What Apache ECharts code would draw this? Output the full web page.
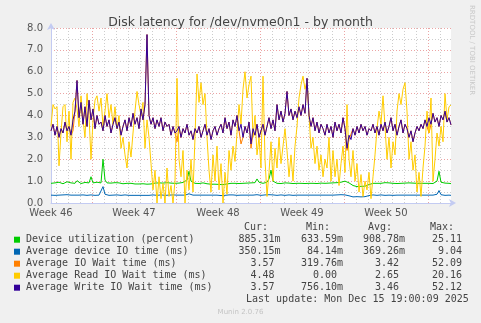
<!DOCTYPE html>
<html>
<head>
<meta charset="utf-8">
<script src="https://cdn.jsdelivr.net/npm/echarts@6/dist/echarts.min.js"></script>
<style>
  html, body { margin: 0; padding: 0; background: #f0f0f0; }
  #chart { width: 481px; height: 323px; }
</style>
</head>
<body>
<div id="chart"></div>
<script>
// Time axis: hours since the left edge of the graph, one sample every 4 hours.
const STEP_HOURS = 4;
const SPAN_HOURS = 800;

// Day and week gridlines (hours), and week labels placed mid-week.
const dayGridHours = [10, 34, 58, 82, 106, 130, 154, 178, 202, 226, 250, 274, 298, 322, 346, 370, 394,
  418, 442, 466, 490, 514, 538, 562, 586, 610, 634, 658, 682, 706, 730, 754, 778];
const weekGridHours = [82, 250, 418, 586, 754];
const weekLabelHours = [0, 166, 334, 502, 670];
const weekLabels = ['Week 46', 'Week 47', 'Week 48', 'Week 49', 'Week 50'];

// Device utilization (percent)
const utilization = [
  0.90, 0.88, 0.92, 0.89, 0.95, 0.90, 0.88, 0.91, 0.97, 0.89,
  0.92, 0.88, 0.90, 1.02, 0.93, 0.89, 0.91, 0.94, 0.90, 0.92,
  1.20, 0.92, 0.89, 0.95, 0.90, 0.92, 2.00, 1.05, 0.92, 0.89,
  0.91, 0.90, 0.93, 0.89, 0.92, 0.90, 0.88, 0.91, 0.90, 0.89,
  0.90, 0.88, 0.87, 0.86, 0.87, 0.86, 0.88, 0.87, 0.86, 0.88,
  0.87, 0.89, 0.91, 0.90, 0.92, 0.89, 0.91, 0.90, 0.93, 0.90,
  0.91, 0.92, 0.90, 0.93, 0.91, 0.90, 0.94, 0.92, 1.05, 1.45,
  1.00, 0.92, 0.90, 0.91, 0.89, 0.90, 0.92, 0.90, 0.88, 0.87,
  0.86, 0.85, 0.86, 0.84, 0.85, 0.86, 0.84, 0.85, 0.87, 0.89,
  0.90, 0.92, 0.90, 0.91, 0.89, 0.93, 0.90, 0.92, 0.91, 0.90,
  0.92, 0.90, 0.93, 1.10, 0.95, 0.91, 0.90, 0.92, 0.95, 1.10,
  1.50, 1.00, 0.92, 0.90, 0.91, 0.89, 0.90, 0.92, 0.90, 0.91,
  0.90, 0.89, 0.91, 0.90, 0.92, 0.90, 0.91, 0.89, 0.93, 0.90,
  0.91, 0.90, 0.92, 0.89, 0.90, 0.91, 0.95, 0.90, 0.92, 0.91,
  0.90, 0.92, 0.90, 0.93, 0.91, 0.95, 0.97, 1.00, 0.98, 0.92,
  0.85, 0.80, 0.76, 0.75, 0.74, 0.76, 0.75, 0.77, 0.80, 0.84,
  0.88, 0.90, 0.91, 0.90, 0.92, 0.90, 0.91, 0.93, 0.90, 0.92,
  0.91, 0.90, 0.92, 0.89, 0.91, 0.90, 0.92, 0.91, 0.90, 0.92,
  0.90, 0.91, 0.89, 0.90, 0.92, 0.90, 0.91, 0.90, 0.92, 0.90,
  0.91, 0.89, 0.92, 1.00, 1.45, 0.95, 0.90, 0.91, 0.89, 0.90,
  0.885
];

// Average device IO time (ms)
const deviceIoTime = [
  0.36, 0.37, 0.35, 0.38, 0.36, 0.35, 0.37, 0.36, 0.38, 0.35,
  0.36, 0.37, 0.36, 0.40, 0.36, 0.35, 0.37, 0.36, 0.35, 0.38,
  0.37, 0.36, 0.35, 0.37, 0.36, 0.38, 0.75, 0.40, 0.36, 0.35,
  0.37, 0.36, 0.35, 0.37, 0.36, 0.35, 0.36, 0.37, 0.36, 0.35,
  0.36, 0.35, 0.34, 0.35, 0.34, 0.35, 0.34, 0.35, 0.36, 0.35,
  0.36, 0.37, 0.36, 0.35, 0.36, 0.37, 0.36, 0.35, 0.37, 0.36,
  0.36, 0.37, 0.35, 0.36, 0.37, 0.36, 0.38, 0.36, 0.38, 0.42,
  0.37, 0.36, 0.35, 0.36, 0.37, 0.36, 0.35, 0.36, 0.37, 0.36,
  0.35, 0.36, 0.35, 0.36, 0.35, 0.34, 0.36, 0.35, 0.36, 0.37,
  0.36, 0.37, 0.36, 0.35, 0.37, 0.36, 0.35, 0.36, 0.37, 0.36,
  0.37, 0.36, 0.35, 0.38, 0.36, 0.35, 0.36, 0.37, 0.36, 0.38,
  0.42, 0.37, 0.36, 0.35, 0.36, 0.37, 0.36, 0.35, 0.36, 0.37,
  0.36, 0.35, 0.37, 0.36, 0.35, 0.36, 0.37, 0.36, 0.35, 0.36,
  0.37, 0.36, 0.35, 0.36, 0.37, 0.36, 0.38, 0.36, 0.35, 0.36,
  0.37, 0.36, 0.35, 0.37, 0.36, 0.38, 0.36, 0.37, 0.36, 0.33,
  0.30, 0.28, 0.27, 0.29, 0.26, 0.28, 0.27, 0.29, 0.31, 0.34,
  0.36, 0.37, 0.36, 0.35, 0.36, 0.37, 0.36, 0.35, 0.37, 0.36,
  0.36, 0.35, 0.37, 0.36, 0.35, 0.36, 0.37, 0.36, 0.35, 0.36,
  0.37, 0.36, 0.35, 0.36, 0.37, 0.36, 0.35, 0.36, 0.37, 0.36,
  0.35, 0.36, 0.37, 0.40, 0.57, 0.38, 0.36, 0.35, 0.36, 0.36,
  0.35
];

// Average IO Wait time (ms)
const ioWait = [
  3.3, 3.6, 3.1, 3.5, 3.0, 3.4, 3.2, 3.7, 3.3, 3.5,
  3.1, 3.3, 4.2, 5.6, 3.9, 4.6, 3.6, 4.4, 3.5, 4.7,
  3.8, 4.3, 3.4, 4.0, 3.6, 3.7, 3.3, 4.0, 3.5, 3.8,
  3.2, 3.6, 3.9, 3.4, 3.7, 3.1, 3.5, 3.8, 3.3, 3.9,
  3.5, 4.1, 3.6, 3.9, 3.4, 4.3, 3.8, 4.5, 7.7, 4.0,
  3.6, 3.9, 3.4, 3.8, 3.5, 3.9, 3.3, 3.7, 3.5, 3.6,
  3.1, 3.5, 3.2, 2.8, 3.5, 3.0, 3.4, 3.2, 3.6, 3.1,
  3.3, 2.9, 3.4, 3.2, 3.5, 3.0, 3.3, 3.6, 3.1, 3.4,
  2.9, 3.3, 3.5, 3.1, 3.4, 3.6, 3.2, 3.9, 3.4, 3.7,
  3.1, 3.8, 3.5, 4.0, 3.3, 2.7, 3.0, 3.5, 3.2, 3.7,
  2.5, 3.2, 3.1, 3.6, 3.0, 3.3, 3.6, 3.1, 3.5, 3.9,
  3.4, 3.8, 3.3, 4.5, 3.8, 4.2, 3.7, 4.1, 5.1, 4.0,
  4.3, 3.8, 4.2, 3.9, 4.4, 4.0, 4.5, 4.1, 5.7, 4.0,
  3.5, 3.9, 3.3, 3.7, 3.2, 3.6, 3.4, 3.1, 3.6, 3.2,
  3.5, 3.0, 3.7, 3.3, 3.6, 3.2, 3.9, 3.4, 2.4, 2.9,
  2.9, 3.4, 3.1, 3.5, 3.2, 3.6, 3.3, 3.5, 3.1, 3.4,
  3.3, 3.6, 3.2, 3.5, 3.1, 3.6, 3.3, 3.7, 3.2, 3.5,
  3.9, 3.3, 3.6, 3.1, 3.5, 3.8, 3.2, 3.6, 3.4, 3.0,
  3.3, 2.8, 3.2, 3.5, 3.3, 3.6, 3.4, 3.8, 3.5, 3.2,
  3.6, 4.1, 3.7, 3.9, 3.5, 4.0, 3.8, 4.2, 3.7, 3.9,
  3.57
];

// Average Read IO Wait time (ms)
const readWait = [
  3.5, 4.5, 4.3, 4.4, 1.7, 3.2, 4.4, 4.5, 2.8, 4.2,
  2.0, 4.6, 4.8, 4.3, 3.5, 4.9, 3.8, 3.0, 5.0, 4.0,
  2.0, 3.8, 4.7, 4.9, 4.2, 4.8, 3.5, 4.2, 5.0, 3.9,
  4.5, 3.6, 4.4, 3.4, 4.0, 2.5, 3.0, 2.2, 1.6, 2.8,
  2.1, 3.2, 4.2, 5.1, 4.5, 4.0, 4.6, 2.5, 3.8, 3.0,
  1.8, 0.6, 1.5, 0.0, 1.2, 0.2, 0.9, 0.0, 1.6, 0.3,
  0.8, 0.0, 1.0, 5.7, 2.0, 1.2, 2.4, 0.0, 1.5, 0.6,
  2.0, 0.5, 3.0, 5.9, 4.6, 5.5, 4.5, 5.0, 3.0, 1.5,
  0.5, 2.2, 1.0, 2.6, 0.6, 1.8, 0.0, 1.4, 0.4, 2.4,
  1.5, 2.6, 1.9, 3.2, 4.5, 3.6, 5.2, 6.0, 4.8, 5.4,
  5.8, 3.0, 4.0, 2.2, 3.0, 1.6, 5.8, 2.0, 0.3, 1.4,
  2.8, 1.0, 2.5, 1.6, 3.0, 1.8, 2.6, 3.4, 2.4, 1.2,
  2.2, 1.0, 2.6, 3.5, 4.8, 5.4, 5.8, 5.2, 5.6, 4.0,
  2.5, 3.0, 1.8, 2.6, 1.5, 2.2, 1.2, 2.0, 1.6, 3.0,
  1.0, 2.4, 1.2, 2.0, 0.8, 1.8, 2.6, 1.4, 4.5, 2.0,
  1.2, 2.4, 1.0, 1.8, 0.5, 1.3, 0.3, 1.0, 0.6, 1.4,
  0.2, 1.2, 2.2, 3.4, 4.2, 3.6, 4.9, 3.5, 2.0, 3.0,
  1.6, 2.8, 2.2, 4.2, 5.0, 4.5, 5.2, 5.5, 4.2, 2.0,
  2.8, 1.5, 2.2, 0.5, 1.4, 0.3, 1.6, 2.6, 4.2, 3.2,
  4.8, 1.0, 2.0, 3.2, 2.6, 3.5, 2.8, 5.0, 3.8, 4.4,
  4.48
];

// Average Write IO Wait time (ms)
const writeWait = [
  3.3, 3.6, 3.1, 3.5, 3.0, 3.4, 3.2, 3.7, 3.3, 3.5,
  3.1, 3.8, 4.2, 5.6, 3.9, 4.6, 3.6, 4.4, 3.5, 4.7,
  3.8, 4.3, 3.4, 4.0, 3.6, 3.7, 3.3, 4.0, 3.5, 3.8,
  3.2, 3.6, 3.9, 3.4, 3.7, 3.1, 3.5, 3.8, 3.3, 3.9,
  3.5, 4.1, 3.6, 3.9, 3.4, 4.3, 3.8, 4.5, 7.7, 4.0,
  3.6, 3.9, 3.4, 3.8, 3.5, 3.9, 3.3, 3.7, 3.5, 3.6,
  3.1, 3.5, 3.2, 3.3, 3.5, 3.0, 3.4, 3.2, 3.6, 3.1,
  3.3, 2.9, 3.4, 3.2, 3.5, 3.0, 3.3, 3.6, 3.1, 3.4,
  2.9, 3.3, 3.5, 3.1, 3.4, 3.6, 3.2, 3.9, 3.4, 3.7,
  3.1, 3.8, 3.5, 4.0, 3.3, 3.6, 3.0, 3.5, 3.2, 3.7,
  2.7, 3.4, 3.1, 3.6, 3.0, 3.3, 3.6, 3.1, 3.5, 3.9,
  3.4, 3.8, 3.3, 4.5, 3.8, 4.2, 3.7, 4.1, 5.1, 4.0,
  4.3, 3.8, 4.2, 3.9, 4.4, 4.0, 4.5, 4.1, 5.7, 4.0,
  3.5, 3.9, 3.3, 3.7, 3.2, 3.6, 3.4, 3.1, 3.6, 3.2,
  3.5, 3.0, 3.7, 3.3, 3.6, 3.2, 3.9, 3.4, 2.5, 3.1,
  2.9, 3.4, 3.1, 3.5, 3.2, 3.6, 3.3, 3.5, 3.1, 3.4,
  3.3, 3.6, 3.2, 3.5, 3.1, 3.6, 3.3, 3.7, 3.2, 3.5,
  3.9, 3.3, 3.6, 3.1, 3.5, 3.8, 3.2, 3.6, 3.4, 3.0,
  3.3, 2.8, 3.2, 3.5, 3.3, 3.6, 3.4, 3.8, 3.5, 3.9,
  3.6, 4.1, 3.7, 3.9, 3.5, 4.0, 3.8, 4.2, 3.7, 3.9,
  3.57
];

// Legend rows and their summary columns
const seriesNames = [
  'Device utilization (percent)',
  'Average device IO time (ms)',
  'Average IO Wait time (ms)',
  'Average Read IO Wait time (ms)',
  'Average Write IO Wait time (ms)'
];
const seriesColors = ['#00cc00', '#0066b3', '#ff8000', '#ffcc00', '#330099'];
const seriesValues = [utilization, deviceIoTime, ioWait, readWait, writeWait];
const curVals = ['885.31m', '350.15m', '  3.57 ', '  4.48 ', '  3.57 '];
const minVals = ['633.59m', ' 84.14m', '319.76m', '  0.00 ', '756.10m'];
const avgVals = ['908.78m', '369.26m', '  3.42 ', '  2.65 ', '  3.46 '];
const maxVals = [' 25.11 ', '  9.04 ', ' 52.09 ', ' 20.16 ', ' 52.12 '];
const lastUpdate = 'Last update: Mon Dec 15 19:00:09 2025';

const chart = echarts.init(document.getElementById('chart'), null, { renderer: 'canvas' });

const SANS = 'DejaVu Sans';
const MONO = 'DejaVu Sans Mono';
const TEXT_COLOR = '#444';
const AXIS_COLOR = '#c3cbf2';
const MINOR_GRID = { color: '#cdcdcd', width: 1, type: [1, 2] };
const MAJOR_GRID = { color: '#eba4a4', width: 1, type: [1, 2] };

const series = seriesValues.map((vals, k) => ({
  name: seriesNames[k],
  type: 'line',
  xAxisIndex: 0,
  yAxisIndex: 0,
  data: vals.map((v, i) => [i * STEP_HOURS, v]),
  showSymbol: false,
  symbol: 'none',
  lineStyle: { color: seriesColors[k], width: 1 },
  itemStyle: { color: seriesColors[k] },
  silent: true,
  z: 2 + k
}));

// Legend block under the plot
const graphic = [];
const rowY = [239.7, 251.7, 263.7, 275.7, 287.7];
const colX = [238.5, 301, 363, 426];
const columns = [curVals, minVals, avgVals, maxVals];
const headers = [['Cur:', 244], ['Min:', 306], ['Avg:', 368], ['Max:', 430]];

headers.forEach(([t, x]) => graphic.push({
  type: 'text', x: x, y: 227.7,
  style: { text: t, font: '10px "' + MONO + '"', fill: TEXT_COLOR, textVerticalAlign: 'middle' }
}));

seriesNames.forEach((name, k) => {
  graphic.push({
    type: 'rect', shape: { x: 14, y: rowY[k] - 3, width: 6, height: 6 },
    style: { fill: seriesColors[k] }
  });
  graphic.push({
    type: 'text', x: 26, y: rowY[k],
    style: { text: name, font: '10px "' + MONO + '"', fill: TEXT_COLOR, textVerticalAlign: 'middle' }
  });
  columns.forEach((col, c) => graphic.push({
    type: 'text', x: colX[c], y: rowY[k],
    style: { text: col[k], font: '10px "' + MONO + '"', fill: TEXT_COLOR, textVerticalAlign: 'middle' }
  }));
});

graphic.push({
  type: 'text', x: 246, y: 299.7,
  style: { text: lastUpdate, font: '10px "' + MONO + '"', fill: TEXT_COLOR, textVerticalAlign: 'middle' }
});
graphic.push({
  type: 'text', x: 240.5, y: 312,
  style: { text: 'Munin 2.0.76', font: '7px "' + SANS + '"', fill: '#c4c4c4', textAlign: 'center', textVerticalAlign: 'middle' }
});
graphic.push({
  type: 'text', x: 471.5, y: 5, rotation: -Math.PI / 2,
  style: { text: 'RRDTOOL / TOBI OETIKER', font: '7px "' + SANS + '"', fill: '#c8c8c8', textAlign: 'left', textVerticalAlign: 'middle' }
});

chart.setOption({
  animation: false,
  backgroundColor: '#f0f0f0',
  title: {
    text: 'Disk latency for /dev/nvme0n1 - by month',
    left: 'center',
    top: 11,
    textStyle: { fontFamily: SANS, fontSize: 12.5, fontWeight: 'normal', color: '#444' }
  },
  grid: {
    left: 51, top: 28, width: 400, height: 175,
    show: true, backgroundColor: '#ffffff', borderWidth: 0
  },
  xAxis: [
    {
      // day gridlines + axis line
      type: 'value', position: 'bottom', min: 0, max: SPAN_HOURS,
      axisLine: { show: true, lineStyle: { color: AXIS_COLOR, width: 1 }, symbol: ['none', 'arrow'], symbolSize: [6, 7], symbolOffset: [0, 5] },
      axisTick: { show: false, customValues: dayGridHours },
      axisLabel: { show: false },
      splitLine: { show: true, lineStyle: MINOR_GRID }
    },
    {
      // week gridlines + week labels
      type: 'value', position: 'bottom', min: 0, max: SPAN_HOURS,
      axisLine: { show: false },
      axisTick: { show: false, customValues: weekGridHours },
      axisLabel: {
        show: true, customValues: weekLabelHours, margin: 5,
        fontFamily: SANS, fontSize: 10, color: '#555',
        formatter: v => weekLabels[weekLabelHours.indexOf(v)] || ''
      },
      splitLine: { show: true, lineStyle: MAJOR_GRID }
    }
  ],
  yAxis: [
    {
      // minor half-unit gridlines + axis line
      type: 'value', position: 'left', min: 0, max: 8, interval: 0.5,
      axisLine: { show: true, lineStyle: { color: AXIS_COLOR, width: 1 }, symbol: ['none', 'arrow'], symbolSize: [6, 7], symbolOffset: [0, 5] },
      axisTick: { show: false },
      axisLabel: { show: false },
      splitLine: { show: true, lineStyle: MINOR_GRID }
    },
    {
      // major unit gridlines + labels
      type: 'value', position: 'left', min: 0, max: 8, interval: 1,
      axisLine: { show: false },
      axisTick: { show: false },
      axisLabel: {
        show: true, margin: 8, fontFamily: SANS, fontSize: 10, color: '#555',
        formatter: v => v.toFixed(1)
      },
      splitLine: { show: true, lineStyle: MAJOR_GRID }
    }
  ],
  series: series,
  graphic: graphic
});
</script>
</body>
</html>
